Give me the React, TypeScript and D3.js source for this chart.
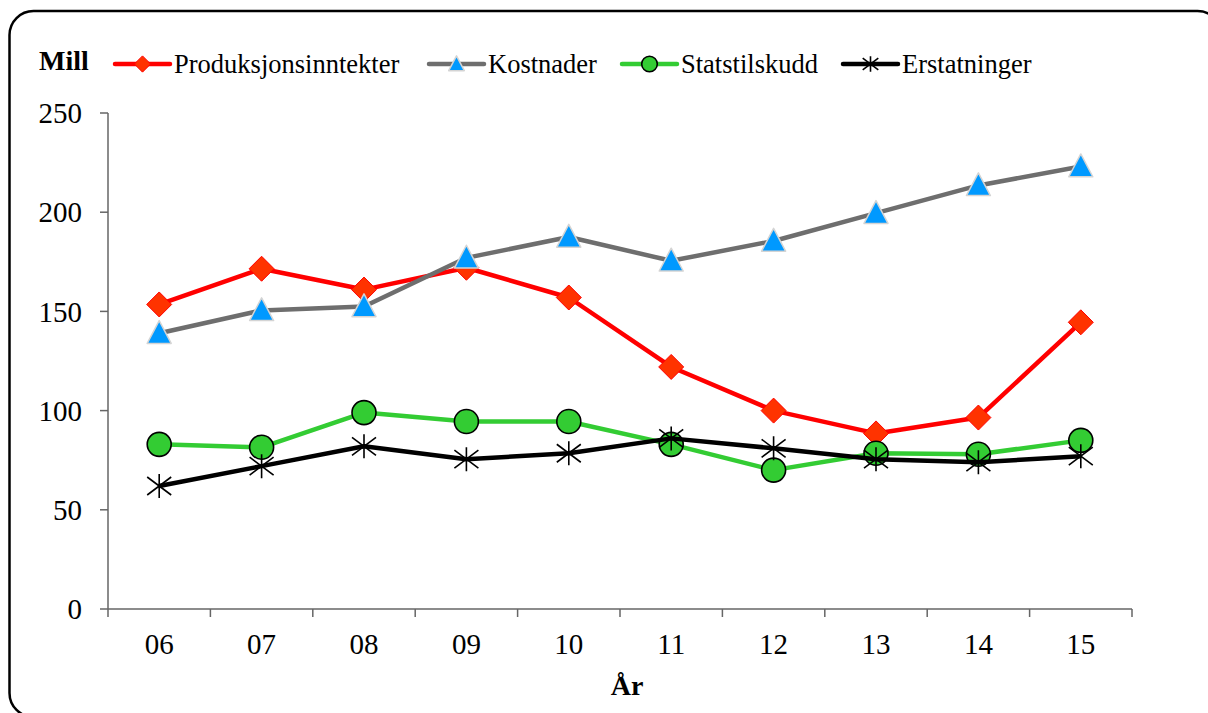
import * as d3 from 'd3'

const years = ['06', '07', '08', '09', '10', '11', '12', '13', '14', '15']
const produksjon = [153.5, 171.5, 161, 172, 157, 122, 100, 88.5, 96.5, 144.5]
const kostnader = [139, 150.5, 152.5, 177, 187.5, 175.5, 185.5, 199.5, 213.5, 223]
const statstilskudd = [83, 81.5, 99, 94.5, 94.5, 83, 70, 78.5, 78, 85]
const erstatninger = [62, 72, 82, 75.5, 78.5, 86, 81, 75.5, 74, 77]
const yTicks = [0, 50, 100, 150, 200, 250]

type Marker = 'diamond' | 'triangle' | 'circle' | 'star'

const series: { name: string; values: number[]; color: string; marker: Marker }[] = [
  { name: 'Produksjonsinntekter', values: produksjon, color: '#ff0000', marker: 'diamond' },
  { name: 'Kostnader', values: kostnader, color: '#6e6e6e', marker: 'triangle' },
  { name: 'Statstilskudd', values: statstilskudd, color: '#33cc33', marker: 'circle' },
  { name: 'Erstatninger', values: erstatninger, color: '#000000', marker: 'star' },
]

const W = 1208
const H = 713
const left = 108
const right = 1132
const top = 113
const bottom = 609
const FONT = 'Liberation Serif, Tinos, Times New Roman, DejaVu Serif, serif'
const legendX = [115, 429, 622, 843]

function MarkerShape({ type, x, y, s = 1 }: { type: Marker; x: number; y: number; s?: number }) {
  if (type === 'diamond') {
    const r = 12.5 * s
    return (
      <path
        d={`M${x},${y - r}L${x + r},${y}L${x},${y + r}L${x - r},${y}Z`}
        fill="#ff3300"
        stroke="#ff0000"
        strokeWidth={1}
      />
    )
  }
  if (type === 'triangle') {
    const r = 12 * s
    return (
      <path
        d={`M${x},${y - r * 1.05}L${x + r},${y + r * 0.85}L${x - r},${y + r * 0.85}Z`}
        fill="#0099ff"
        stroke="#d4d4d4"
        strokeWidth={1.5}
        strokeLinejoin="round"
      />
    )
  }
  if (type === 'circle') {
    return <circle cx={x} cy={y} r={12 * s} fill="#33cc33" stroke="#000" strokeWidth={1.6} />
  }
  const r = 12 * s
  return (
    <path
      d={`M${x},${y - r}L${x},${y + r}M${x - r},${y - r * 0.75}L${x + r},${y + r * 0.75}M${x - r},${y + r * 0.75}L${x + r},${y - r * 0.75}`}
      stroke="#000"
      strokeWidth={1.6}
      fill="none"
    />
  )
}

export default function App() {
  const x = d3.scaleBand<string>().domain(years).range([left, right])
  const y = d3.scaleLinear().domain([0, 250]).range([bottom, top])
  const cx = (d: string) => (x(d) ?? 0) + x.bandwidth() / 2
  const line = d3
    .line<number>()
    .x((_, i) => cx(years[i]))
    .y((v) => y(v))

  const boundaries = [...years.map((d) => x(d) ?? 0), right]

  return (
    <div style={{ position: 'absolute', left: 0, top: 0 }}>
      <svg width={W} height={H} style={{ display: 'block' }} fontFamily={FONT}>
        <rect x={0} y={0} width={W} height={H} fill="#fff" />
        <rect x={9.5} y={11} width={1212} height={706} rx={24} fill="none" stroke="#000" strokeWidth={2.5} />

        {/* axes */}
        <line x1={left} x2={left} y1={top} y2={bottom} stroke="#666" strokeWidth={1.5} />
        <line x1={left} x2={right} y1={bottom} y2={bottom} stroke="#666" strokeWidth={1.5} />
        {yTicks.map((t) => (
          <g key={t}>
            <line x1={left - 8} x2={left} y1={y(t)} y2={y(t)} stroke="#666" strokeWidth={1.5} />
            <text x={82} y={y(t)} dy="0.35em" textAnchor="end" fontSize={29} fontFamily={FONT}>
              {t}
            </text>
          </g>
        ))}
        {boundaries.map((b, i) => (
          <line key={i} x1={b} x2={b} y1={bottom} y2={bottom + 8} stroke="#666" strokeWidth={1.5} />
        ))}
        {years.map((d) => (
          <text key={d} x={cx(d)} y={654} textAnchor="middle" fontSize={29} fontFamily={FONT}>
            {d}
          </text>
        ))}
        <text
          x={(left + right) / 2 + 7}
          y={695}
          textAnchor="middle"
          fontSize={28}
          fontWeight="bold"
          fontFamily={FONT}
        >
          År
        </text>

        {/* series */}
        {series.map((s) => (
          <g key={s.name}>
            <path d={line(s.values) ?? ''} fill="none" stroke={s.color} strokeWidth={4.5} strokeLinejoin="round" />
            {s.values.map((v, i) => (
              <MarkerShape key={i} type={s.marker} x={cx(years[i])} y={y(v)} />
            ))}
          </g>
        ))}

        {/* legend */}
        <text x={39} y={70} fontSize={28} fontWeight="bold" fontFamily={FONT}>
          Mill
        </text>
        {series.map((s, i) => (
          <g key={s.name}>
            <line
              x1={legendX[i]}
              x2={legendX[i] + 55}
              y1={64}
              y2={64}
              stroke={s.color}
              strokeWidth={4.5}
              strokeLinecap="round"
            />
            <MarkerShape type={s.marker} x={legendX[i] + 27.5} y={64} s={0.65} />
            <text x={legendX[i] + 59} y={73} fontSize={26.5} fontFamily={FONT}>
              {s.name}
            </text>
          </g>
        ))}
      </svg>
    </div>
  )
}
